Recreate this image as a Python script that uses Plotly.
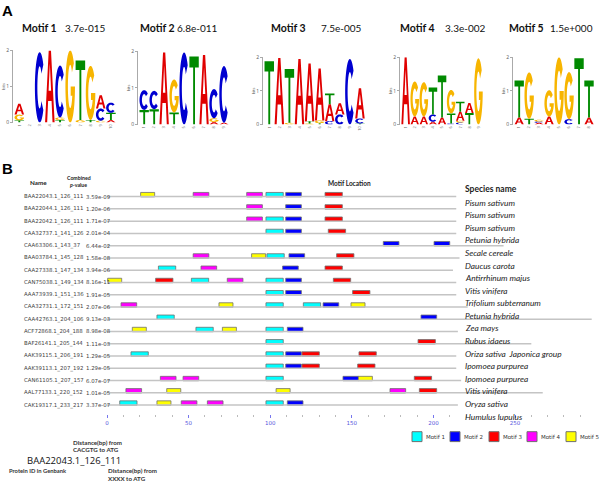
import numpy as np
import plotly.graph_objects as go

W, H = 600, 493

# ---------------- Part A data (sequence logos, bits; stacked bottom -> top) ----------------
motif_names = ["Motif 1", "Motif 2", "Motif 3", "Motif 4", "Motif 5"]
motif_evalues = ["3.7e-015", "6.8e-011", "7.5e-005", "3.3e-002", "1.5e+000"]

motif1_logo = [[("T", .06), ("G", .16), ("A", .30)], [], [("C", 1.95)], [("A", 2.0)],
               [("T", .07), ("G", .07), ("C", 1.44)], [("G", 2.0)], [("G", .07), ("T", 1.65)],
               [("T", .07), ("G", 1.5)], [("G", .05), ("C", .34), ("A", .37)],
               [("A", .07), ("T", .2), ("C", .28)]]
motif2_logo = [[("T", .4), ("C", .54)], [("T", .42), ("C", .5)], [("A", 1.97)],
               [("T", .33), ("G", .9)], [("C", 1.97)], [("T", 1.86)], [("A", 1.9)],
               [("A", .07), ("G", .1), ("C", .8)], [("A", .05), ("C", 1.55)]]
motif3_logo = [[("T", 1.88)], [("A", 1.98)], [("G", .05), ("T", 1.6)], [("A", 1.95)],
               [("G", .03), ("T", .07), ("A", 1.72)], [("T", .04), ("G", .08), ("A", 1.55)],
               [("C", .1), ("A", .5), ("T", .32)], [("C", .3), ("A", .33)], [("C", 1.95)],
               [("T", .03), ("C", .15), ("A", .9)]]
motif4_logo = [[("A", 2.0)], [("A", .24), ("G", 1.04)], [("A", .24), ("G", 1.02)],
               [("A", .08), ("C", .22), ("T", .8)], [("A", .21), ("T", 1.25)],
               [("C", .03), ("T", .3), ("G", .7)], [("C", .06), ("G", .05), ("A", .27), ("T", .3)],
               [("T", .34), ("A", .3)], [("G", 1.97)]]
motif5_logo = [[("A", .21), ("T", 1.1)], [("T", .17), ("G", 1.38)], [("A", .05), ("C", .04), ("G", .05)],
               [("A", .24), ("G", .78)], [("G", 2.0)], [("C", .16), ("G", 1.4)], [("T", 1.97)],
               [("A", .21), ("T", 1.1)]]
logos = [motif1_logo, motif2_logo, motif3_logo, motif4_logo, motif5_logo]

# ---------------- Part B data ----------------
protein_ids = ["BAA22043.1_126_111", "BAA22044.1_126_111", "BAA22042.1_126_111", "CAA32737.1_141_126",
               "CAA63306.1_143_37", "BAA03784.1_145_128", "CAA27338.1_147_134", "CAN75038.1_149_134",
               "AAA73939.1_151_136", "CAA32731.1_172_151", "CAA42763.1_204_106", "ACF72868.1_204_188",
               "BAF26141.1_205_144", "AAK39115.1_206_191", "AAK39113.1_207_192", "CAN61105.1_207_157",
               "AAL77133.1_220_152", "CAK19317.1_233_217"]
p_values = ["3.59e-09", "1.20e-06", "1.71e-07", "2.01e-04", "6.44e-02", "1.58e-08", "3.94e-06", "8.16e-11",
            "1.91e-05", "2.07e-06", "9.13e-03", "8.98e-08", "1.11e-03", "1.29e-05", "1.29e-05", "6.07e-07",
            "1.01e-05", "3.37e-07"]
species = ["Pisum sativum", "Pisum sativum", "Pisum sativum", "Petunia hybrida", "Secale cereale",
           "Daucus carota", "Antirrhinum majus", "Vitis vinifera", "Trifolium subterranum", "Petunia hybrida",
           "Zea mays", "Rubus idaeus", "Oriza sativa  Japonica group", "Ipomoea purpurea", "Ipomoea purpurea",
           "Vitis vinifera", "Oryza sativa", "Humulus lupulus"]
seq_lengths = [214, 214, 214, 214, 243, 216, 212, 214, 214, 221, 297, 215, 260, 214, 214, 217, 267, 215]
# (motif number, start bp) per sequence
sites = [
    [(5, 20.6), (4, 52.8), (4, 85.6), (1, 97.4), (2, 109.5), (3, 133.6)],
    [(4, 85.6), (2, 109.5), (3, 133.6)],
    [(4, 85.6), (1, 97.4), (2, 109.5), (3, 133.6)],
    [(1, 97.4), (2, 109.5), (3, 135.6)],
    [(2, 169.3), (2, 200.4)],
    [(4, 52.8), (5, 88.6), (1, 98.0), (2, 111.5), (3, 140.7)],
    [(1, 31.5), (4, 57.6), (2, 107.6), (3, 133.6)],
    [(5, 0.4), (3, 29.8), (1, 51.7), (4, 73.7), (1, 97.4), (2, 109.5), (3, 138.7)],
    [(1, 97.4), (2, 109.5), (3, 150.5)],
    [(4, 8.6), (5, 68.6), (1, 97.4), (1, 120.3), (2, 132.4), (5, 149.5)],
    [(1, 30.6), (2, 192.4)],
    [(5, 15.5), (1, 54.5), (5, 70.7), (1, 97.4), (2, 110.5)],
    [(1, 97.4), (3, 190.6)],
    [(1, 14.7), (1, 97.4), (2, 109.5), (3, 119.5), (3, 154.4)],
    [(1, 97.4), (2, 109.5), (3, 119.5), (3, 153.6)],
    [(4, 32.7), (4, 46.6), (1, 97.4), (2, 144.6), (5, 154.0), (3, 188.3)],
    [(4, 11.6), (5, 36.6), (5, 103.6), (4, 173.4), (3, 191.4)],
    [(1, 7.8), (5, 30.6), (4, 45.5), (4, 61.5), (1, 97.4), (2, 110.5)],
]
axis_major = [0, 50, 100, 150, 200, 250]
axis_minor = list(range(0, 300, 10))

# ---------------- styles ----------------
letter_colors = {"A": "#E00000", "C": "#0000D0", "G": "#F7B500", "T": "#008A00"}
motif_colors = ["#00FFFF", "#0000FF", "#FF0000", "#FF00FF", "#FFFF00"]
logo_px = [(13, 116, 48, 121), (138, 229, 49, 123), (263, 365, 55, 123),
           (400, 483, 55, 123), (513, 594, 55, 123)]
title_px = [(20, 63), (138, 175), (269, 319), (398, 443), (507, 548)]


def arc(cx, cy, rx, ry, a0, a1, n):
    a = np.radians(np.linspace(a0, a1, n))
    return list(zip(cx + rx * np.cos(a), cy + ry * np.sin(a)))


GLYPHS = {
    "T": [[(0, 1), (1, 1), (1, .84), (.6, .84), (.6, 0), (.4, 0), (.4, .84), (0, .84)]],
    "A": [[(0, 0), (.38, 1), (.62, 1), (1, 0), (.78, 0), (.68, .3), (.32, .3), (.22, 0)],
          [(.37, .44), (.63, .44), (.5, .82)]],
    "C": [arc(.5, .5, .5, .5, 40, 320, 40) + arc(.5, .5, .24, .3, 320, 40, 40)],
    "G": [arc(.5, .5, .5, .5, 40, 360, 44) + [(.55, .5), (.55, .37), (.75, .37)]
          + arc(.5, .5, .24, .3, 335, 40, 40)],
}


def glyph_path(letter, xc, y0, h, w=0.94):
    parts = []
    for poly in GLYPHS[letter]:
        pts = [(xc - w / 2 + u * w, y0 + v * h) for u, v in poly]
        parts.append("M " + " L ".join(f"{x:.4f},{y:.4f}" for x, y in pts) + " Z")
    return " ".join(parts)


fig = go.Figure()
lay = dict(width=W, height=H, margin=dict(l=0, r=0, t=0, b=0), paper_bgcolor="white",
           plot_bgcolor="white", showlegend=False)
shapes, annotations = [], []

# ---------------- Part A ----------------
for k, logo in enumerate(logos):
    ax = "" if k == 0 else str(k + 1)
    x0, x1, yt, yb = logo_px[k]
    n = len(logo)
    lay["xaxis" + ax] = dict(domain=[x0 / W, x1 / W], range=[0.38, n + 0.5], anchor="y" + ax,
                             showgrid=False, zeroline=False, showline=False, ticks="",
                             tickvals=list(range(1, n + 1)), ticktext=[str(i) for i in range(1, n + 1)],
                             tickangle=-90, tickfont=dict(size=4, color="#666"), fixedrange=True)
    lay["yaxis" + ax] = dict(domain=[1 - yb / H, 1 - yt / H], range=[0, 2], anchor="x" + ax,
                             showgrid=False, zeroline=False, showline=True, linecolor="#aaa",
                             linewidth=1, ticks="outside", ticklen=2, tickcolor="#aaa",
                             tickvals=[0, 1, 2], tickfont=dict(size=5, color="#555"),
                             title=dict(text="bits", font=dict(size=4, color="#555"), standoff=0),
                             fixedrange=True)
    fig.add_trace(go.Scatter(x=[1], y=[0], mode="markers", marker=dict(opacity=0),
                             xaxis="x" + ax, yaxis="y" + ax, hoverinfo="skip"))
    for p, stack in enumerate(logo, start=1):
        y0 = 0.0
        for letter, h in stack:
            shapes.append(dict(type="path", xref="x" + ax, yref="y" + ax,
                               path=glyph_path(letter, p, y0, h),
                               fillcolor=letter_colors[letter], line=dict(width=0), layer="above"))
            y0 += h
    nx, ex = title_px[k]
    annotations.append(dict(text="<b>" + motif_names[k] + "</b>", x=nx / W, y=1 - 25 / H, xref="paper",
                            yref="paper", xanchor="left", yanchor="middle", showarrow=False,
                            font=dict(family="Lato", size=10.5, color="#111")))
    annotations.append(dict(text=motif_evalues[k], x=ex / W, y=1 - 25 / H, xref="paper",
                            yref="paper", xanchor="left", yanchor="middle", showarrow=False,
                            font=dict(family="Lato", size=10, color="#111")))

annotations.append(dict(text="<b>A</b>", x=0, y=1 - 8 / H, xref="paper", yref="paper", xanchor="left",
                        yanchor="middle", showarrow=False, font=dict(family="Liberation Sans", size=15, color="black")))
annotations.append(dict(text="<b>B</b>", x=0, y=1 - 168 / H, xref="paper", yref="paper", xanchor="left",
                        yanchor="middle", showarrow=False, font=dict(family="Liberation Sans", size=15, color="black")))

# ---------------- Part B ----------------
BP0, BPPX = 107.0, 1.632          # pixel of 0 bp, pixels per bp
ROW0, ROWH = 196.0, 12.41         # pixel of first row, pixels per row


def bp(px):
    return (px - BP0) / BPPX


def row(py):
    return 1 + (py - ROW0) / ROWH


lay["xaxis6"] = dict(domain=[0, 1], range=[bp(0), bp(W)], anchor="free", position=1 - 416 / H,
                     showgrid=False, zeroline=False,
                     showline=False, tickvals=axis_major, ticks="outside", ticklen=3, tickcolor="#7777ee",
                     tickfont=dict(family="DejaVu Sans", size=5.5, color="#5555dd"),
                     minor=dict(tickvals=axis_minor, ticks="outside", ticklen=2, tickcolor="#bbbbbb"),
                     fixedrange=True)
lay["yaxis6"] = dict(domain=[1 - 440 / H, 1 - 160 / H], range=[row(440), row(160)], visible=False,
                     fixedrange=True)

rows = list(range(1, len(protein_ids) + 1))
lx, ly = [], []
for r, L in zip(rows, seq_lengths):
    lx += [0, L, None]
    ly += [r, r, None]
fig.add_trace(go.Scatter(x=lx, y=ly, mode="lines", line=dict(color="#c4c4c4", width=1.5),
                         xaxis="x6", yaxis="y6", hoverinfo="skip"))

motif_len = [len(l) for l in logos]
for m in range(5):
    bx, bb, by = [], [], []
    for r, s in zip(rows, sites):
        for mm, st in s:
            if mm == m + 1:
                bb.append(st)
                bx.append(motif_len[m] + 0.6)
                by.append(r)
    fig.add_trace(go.Bar(x=bx, base=bb, y=by, orientation="h", width=0.36, offset=-0.34,
                         marker=dict(color=motif_colors[m], line=dict(color="#707070", width=0.8)),
                         xaxis="x6", yaxis="y6", hoverinfo="skip"))
lay["barmode"] = "overlay"

for r, pid, pv in zip(rows, protein_ids, p_values):
    annotations.append(dict(text=pid, x=bp(22), y=r, xref="x6", yref="y6", xanchor="left",
                            yanchor="middle", showarrow=False,
                            font=dict(family="DejaVu Sans", size=5.4, color="#444")))
    annotations.append(dict(text=pv, x=bp(84), y=r, xref="x6", yref="y6", xanchor="left",
                            yanchor="middle", showarrow=False,
                            font=dict(family="DejaVu Sans", size=5.4, color="#444")))
for k, sp in enumerate(species):
    annotations.append(dict(text="<i>" + sp + "</i>", x=bp(463), y=row(202 + k * 12.75), xref="x6",
                            yref="y6", xanchor="left", yanchor="middle", showarrow=False,
                            font=dict(family="Lato", size=8.3, color="#222")))


def ptext(txt, x, y, size, family="Lato", anchor="left", color="#222"):
    annotations.append(dict(text=txt, x=x / W, y=1 - y / H, xref="paper", yref="paper", xanchor=anchor,
                            yanchor="middle", showarrow=False, font=dict(family=family, size=size, color=color)))


ptext("<b>Name</b>", 38, 182, 6.3, anchor="center")
ptext("<b>Combined</b>", 79, 177, 5.2, anchor="center")
ptext("<b><i>p</i>-value</b>", 79, 184, 5.2, anchor="center")
ptext("<b>Motif Location</b>", 349, 183, 6.5, anchor="center")
ptext("<b>Species name</b>", 463, 188, 8.5)

# legend
leg_px = [412, 450, 489, 527, 566]
for m in range(5):
    shapes.append(dict(type="rect", xref="paper", yref="paper", x0=leg_px[m] / W, x1=(leg_px[m] + 10) / W,
                       y0=1 - 444 / H, y1=1 - 434 / H, fillcolor=motif_colors[m],
                       line=dict(color="#707070", width=1)))
    ptext(motif_names[m], leg_px[m] + 12, 439.5, 5.5, family="DejaVu Sans", color="#333")

# explanation block
ptext("<b>Distance(bp) from</b>", 71, 444.5, 6.2, color="#333")
ptext("<b>CACGTG to ATG</b>", 71, 451.5, 6.2, color="#333")
ptext(protein_ids[0], 25, 463, 9.5, family="Open Sans", color="#111")
ptext("<b>Protein ID in Genbank</b>", 7, 473, 5.8, color="#333")
ptext("<b>Distance(bp) from</b>", 106, 473, 6.2, color="#333")
ptext("<b>XXXX to ATG</b>", 106, 481, 6.2, color="#333")

lay["shapes"] = shapes
lay["annotations"] = annotations
fig.update_layout(**lay)
fig.write_html("out.html", config={"displayModeBar": False},
               post_script="document.body.style.margin='0px';document.body.style.padding='0px';")
